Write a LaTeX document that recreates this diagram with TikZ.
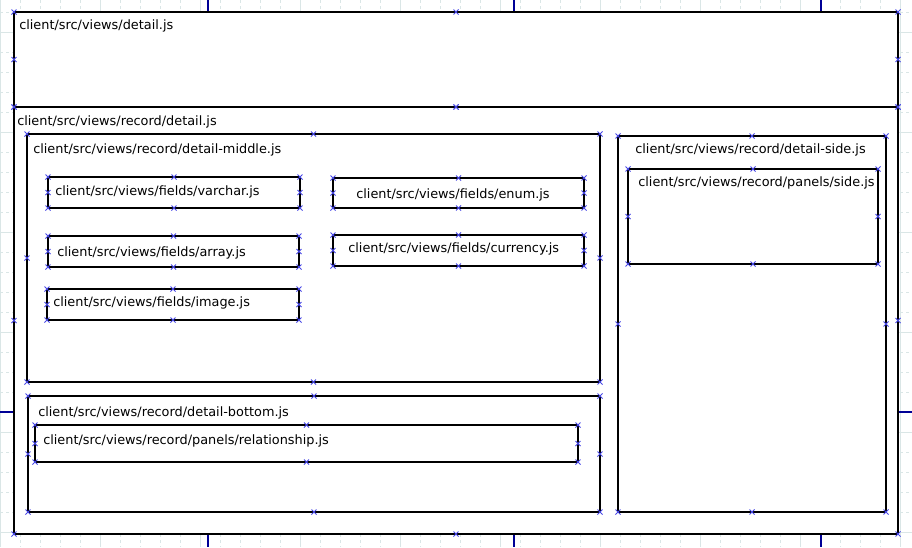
\documentclass[tikz,border=0pt]{standalone}
\usepackage{fontspec}
\setmainfont{DejaVu Sans}
\usetikzlibrary{fit}
\definecolor{gridcol}{RGB}{218,230,230}
\definecolor{pagecol}{RGB}{0,0,150}
\definecolor{markcol}{RGB}{70,70,230}

\begin{document}
\begin{tikzpicture}
[
x=0.75pt, y=-0.75pt,
box/.style={draw, line width=1.7pt, fill=white, inner sep=0pt, outer sep=0pt},
lbl/.style={anchor=west, inner sep=0pt, font=\fontsize{9.65}{11}\selectfont},
mk/.style={draw=markcol, line width=0.6pt}
]
\useasboundingbox (0,0) rectangle (912,547);

% grid
\foreach \gx in {0,20,...,900}
	\draw[gridcol, dash pattern=on 2.25pt off 2.25pt] (\gx,0) -- (\gx,547);
\foreach \gy in {12,32,...,532}
	\draw[gridcol, dash pattern=on 2.25pt off 2.25pt] (0,\gy) -- (912,\gy);
\foreach \gx in {0,100,...,900}
	\draw[gridcol] (\gx,0) -- (\gx,547);
\foreach \gy in {32,132,...,532}
	\draw[gridcol] (0,\gy) -- (912,\gy);

% page breaks
\foreach \px in {208,514,821}
	\draw[pagecol, line width=0.8pt] (\px,0) -- (\px,547);
\draw[pagecol, line width=0.8pt] (0,412) -- (912,412);

% boxes
\node[box, fit={(14,12) (898,107)}] (detail) {};
\node[box, fit={(14,107) (898,534)}] (record) {};
\node[box, fit={(27,134) (600,382)}] (middle) {};
\node[box, fit={(618,136) (886,512)}] (side) {};
\node[box, fit={(628,169) (878,264)}] (sidepanel) {};
\node[box, fit={(28,396) (600,512)}] (bottom) {};
\node[box, fit={(35,425) (578,462)}] (relation) {};
\node[box, fit={(48,177) (300,208)}] (varchar) {};
\node[box, fit={(333,178) (584,208)}] (enum) {};
\node[box, fit={(48,236) (299,267)}] (array) {};
\node[box, fit={(333,235) (584,266)}] (currency) {};
\node[box, fit={(47,289) (299,320)}] (image) {};

% labels
\node[lbl] (detaillbl) at (19,26) {client/src/views/detail.js};
\node[lbl] (recordlbl) at (17,122) {client/src/views/record/detail.js};
\node[lbl] (middlelbl) at (33,150) {client/src/views/record/detail-middle.js};
\node[lbl] (sidelbl) at (635,150) {client/src/views/record/detail-side.js};
\node[lbl] (sidepanellbl) at (638,183) {client/src/views/record/panels/side.js};
\node[lbl] (bottomlbl) at (38,413) {client/src/views/record/detail-bottom.js};
\node[lbl] (relationlbl) at (43,441) {client/src/views/record/panels/relationship.js};
\node[lbl] (varcharlbl) at (55,192) {client/src/views/fields/varchar.js};
\node[lbl] (enumlbl) at (356,195) {client/src/views/fields/enum.js};
\node[lbl] (arraylbl) at (57,253) {client/src/views/fields/array.js};
\node[lbl] (currencylbl) at (348,249) {client/src/views/fields/currency.js};
\node[lbl] (imagelbl) at (53,303) {client/src/views/fields/image.js};

% connection points
\foreach \b in {detail,record,middle,side,sidepanel,bottom,relation,varchar,enum,array,currency,image}
	\foreach \a in {north west,north,north east,east,south east,south,south west,west}
		\draw[mk] (\b.\a) +(-2.5,-2.5) -- +(2.5,2.5) +(-2.5,2.5) -- +(2.5,-2.5);
\end{tikzpicture}
\end{document}
